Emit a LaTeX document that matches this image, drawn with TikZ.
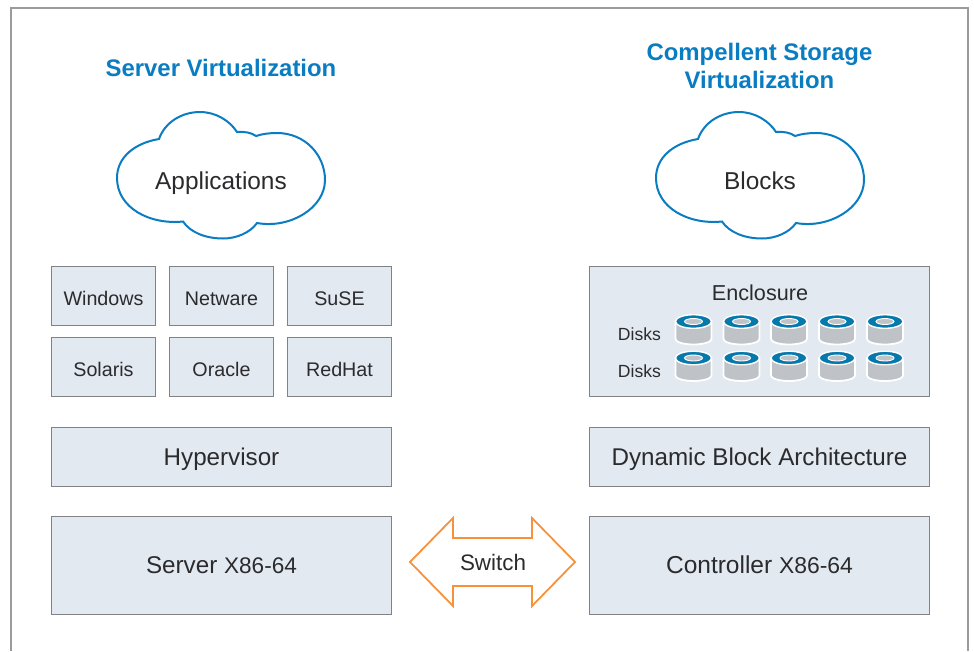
\documentclass[tikz,border=0pt]{standalone}
\usepackage{fontspec}
\setmainfont{Liberation Sans}
\definecolor{boxfill}{HTML}{E3E9F1}
\definecolor{boxline}{HTML}{808285}
\definecolor{inktext}{HTML}{2B2B2D}
\definecolor{titleblue}{HTML}{0A7CC1}
\definecolor{diskblue}{HTML}{0679AC}
\definecolor{diskgray}{HTML}{BFC3C8}
\definecolor{switchorange}{HTML}{F7923A}
\tikzset{
osbox/.style={draw=boxline,fill=boxfill,line width=0.9pt,text=inktext,font=\fontsize{19.7}{22}\selectfont,minimum width=104pt,minimum height=59pt,inner sep=0pt,text height=18pt,text depth=0pt},
widebox/.style={osbox,font=\fontsize{24.2}{26}\selectfont,minimum width=340pt,text height=17.3pt},
titlelabel/.style={text=titleblue,font=\fontsize{23.9}{28}\selectfont\bfseries,align=center},
cloudlabel/.style={text=inktext,font=\fontsize{24.4}{26}\selectfont,text height=17.3pt,text depth=0pt},
cloudline/.style={draw=titleblue,line width=2pt,fill=white},
plainlabel/.style={text=inktext,font=\fontsize{17.6}{20}\selectfont},
}
\newcommand{\cloudoutline}{(159,139) .. controls (165,122) and (182,112) .. (200,112)
  .. controls (216,112) and (230,121) .. (237,132)
  .. controls (245,131.5) and (251,132.5) .. (256,136)
  .. controls (262,134) and (269,133) .. (277,133)
  .. controls (305,133) and (325,155) .. (325,180)
  .. controls (325,208) and (290,229) .. (257,223)
  .. controls (250,233) and (236,238.5) .. (223,238.5)
  .. controls (205,238.5) and (190,232) .. (183,221.5)
  .. controls (150,225) and (117,208) .. (117,178)
  .. controls (117,157) and (135,143) .. (159,139) -- cycle}
\begin{document}
\begin{tikzpicture}[x=1pt,y=-1pt]
\useasboundingbox (0,0) rectangle (974,651);
\draw[color=boxline!80,line width=1.2pt] (11,651)--(11,8)--(968,8)--(968,651);
\node[titlelabel] (servertitle) at (221,68) {Server Virtualization};
\node[titlelabel] (storagetitle) at (759.5,66) {Compellent Storage\\Virtualization};
\draw[cloudline] \cloudoutline;
\draw[cloudline,shift={(539,0)}] \cloudoutline;
\node[cloudlabel] (applications) at (221,181) {Applications};
\node[cloudlabel] (blocks) at (760,181) {Blocks};
\node[osbox] (windows) at (103.5,296) {Windows};
\node[osbox] (netware) at (221.5,296) {Netware};
\node[osbox] (suse) at (339.5,296) {SuSE};
\node[osbox] (solaris) at (103.5,367) {Solaris};
\node[osbox] (oracle) at (221.5,367) {Oracle};
\node[osbox] (redhat) at (339.5,367) {RedHat};
\node[widebox] (hypervisor) at (221.5,457) {Hypervisor};
\node[widebox,minimum height=98pt] (server) at (221.5,565) {Server {\fontsize{22.6}{24}\selectfont X86-64}};
\node[widebox,minimum height=130pt] (enclosure) at (759.5,331.5) {};
\node[cloudlabel,font=\fontsize{21.6}{24}\selectfont,text height=15.5pt] (enclosurelabel) at (760,293) {Enclosure};
\node[plainlabel] (disksa) at (639.5,334) {Disks};
\node[plainlabel] (disksb) at (639.5,371) {Disks};
\foreach \y in {321.5,358} {
\foreach \x in {693.5,741.5,789,837,885} {
\draw[white,line width=1.8pt,fill=diskgray] (\x-18,\y) -- (\x-18,\y+17.5) arc [start angle=180,end angle=360,x radius=18,y radius=-5.5] -- (\x+18,\y) -- cycle;
\draw[white,line width=1.4pt,fill=diskblue] (\x,\y) ellipse [x radius=18,y radius=6.8];
\draw[white,line width=0.9pt,fill=diskgray] (\x,\y) ellipse [x radius=9,y radius=3];
}
}
\node[widebox] (dynamic) at (759.5,457) {Dynamic Block Architecture};
\node[widebox,minimum height=98pt,font=\fontsize{24.5}{26}\selectfont] (controller) at (759.5,565) {Controller {\fontsize{22.9}{24}\selectfont X86-64}};
\draw[switchorange,line width=1.8pt,fill=white] (410,562)--(453,518)--(453,538)--(532,538)--(532,518)--(575,562)--(532,606)--(532,586)--(453,586)--(453,606)--cycle;
\node[cloudlabel,font=\fontsize{22.4}{24}\selectfont,text height=16pt] (switch) at (493,562) {Switch};
\end{tikzpicture}
\end{document}
